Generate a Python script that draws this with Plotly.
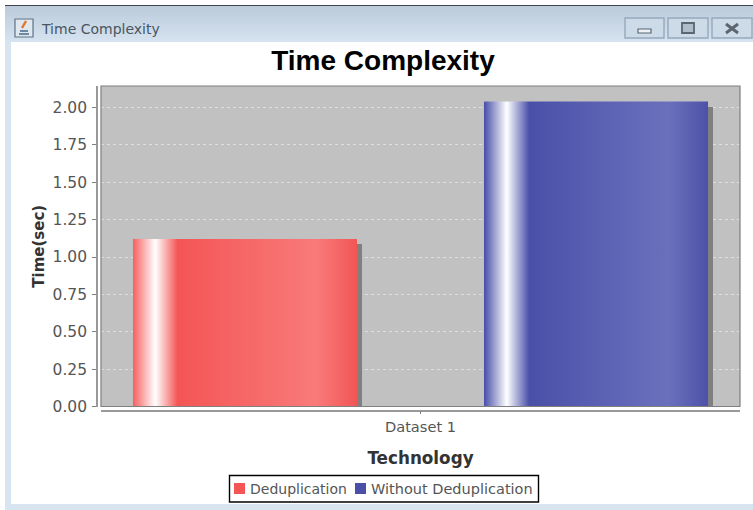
import plotly.graph_objects as go

# ---- data ----
title = "Time Complexity"
categories = ["Dataset 1"]
series_names = ["Deduplication", "Without Deduplication"]
series_values = [1.12, 2.04]
y_ticks = [0.0, 0.25, 0.5, 0.75, 1.0, 1.25, 1.5, 1.75, 2.0]
x_title = "Technology"
y_title = "Time(sec)"

# ---- styling ----
W, H = 753, 510
PL, PR, PT, PB = 101, 740, 86, 406.5
BAR_W = 0.35
centers = [0.225, 0.775]
base_colors = ["#f65555", "#4a4fa8"]
stops = [
    [[0, "#f65f5f"], [0.1, "#ffffff"], [0.2, "#f45555"], [0.82, "#f97a7a"], [1, "#f25656"]],
    [[0, "#4a50a8"], [0.1, "#ffffff"], [0.2, "#4a50a8"], [0.82, "#6b70bd"], [1, "#4d52a8"]],
]
YMAX = (PB - PT) / 149.5
SHADOW_DX = 5 / (PR - PL)
SHADOW_DY = 5 / 149.5


def px(x):
    return x / W


def py(y):
    return 1 - y / H


def rect(x0, y0, x1, y1, fill=None, line=None, lw=0, layer="below"):
    return dict(type="rect", xref="paper", yref="paper", x0=px(x0), x1=px(x1), y0=py(y0), y1=py(y1),
                fillcolor=fill or "rgba(0,0,0,0)", line=dict(color=line or "rgba(0,0,0,0)", width=lw), layer=layer)


def seg(x0, y0, x1, y1, color, lw):
    return dict(type="line", xref="paper", yref="paper", x0=px(x0), x1=px(x1), y0=py(y0), y1=py(y1),
                line=dict(color=color, width=lw), layer="above")


fig = go.Figure()

# shadows
fig.add_trace(go.Bar(x=[c + SHADOW_DX for c in centers], y=[v - SHADOW_DY for v in series_values],
                     width=BAR_W, marker=dict(color="#808080", line=dict(width=0)),
                     showlegend=False, hoverinfo="skip"))

# bars
for name, c, v, col in zip(series_names, centers, series_values, base_colors):
    fig.add_trace(go.Bar(name=name, x=[c], y=[v], width=BAR_W,
                         marker=dict(color=col, line=dict(width=0)), showlegend=False))

# gradient faces
for c, v, st in zip(centers, series_values, stops):
    l, r = c - BAR_W / 2, c + BAR_W / 2
    fig.add_trace(go.Scatter(x=[l, l, r, r, l], y=[0, v, v, 0, 0], mode="lines", fill="toself",
                             line=dict(width=0),
                             fillgradient=dict(type="horizontal", colorscale=st),
                             showlegend=False, hoverinfo="skip"))

shapes = []
# window chrome
shapes.append(rect(5, 6, W, 510, fill="#d8e4f0"))
n = 18
for i in range(n):
    t = i / (n - 1)
    c = (int(188 + t * 26), int(204 + t * 23), int(219 + t * 21))
    y0 = 6 + i * 36 / n
    shapes.append(rect(5, y0, W, y0 + 36 / n + 0.5, fill="rgb(%d,%d,%d)" % c))
shapes.append(rect(11, 42, W, 504, fill="#ffffff"))
shapes.append(seg(5, 5.5, W, 5.5, "#3c4650", 1.2))
shapes.append(rect(PL, PT, PR, PB, fill="#c0c1c0"))

# window buttons
for x0, x1 in [(625, 664), (668, 708), (712, 752)]:
    shapes.append(rect(x0, 18, x1, 38, fill="#cddbe8", line="#96a9bd", lw=1.4, layer="above"))
shapes.append(rect(638, 29, 651, 33, fill="#eef2f6", line="#5b6670", lw=1.2, layer="above"))
shapes.append(rect(682, 23, 694, 33, fill="#aebccb", line="#5b6670", lw=1.8, layer="above"))
shapes.append(seg(726, 24, 738, 33, "#5b6670", 3))
shapes.append(seg(738, 24, 726, 33, "#5b6670", 3))

# java icon
shapes.append(rect(15, 19, 33, 37, fill="#dfe7ef", line="#5f7285", lw=1.2, layer="above"))
shapes.append(seg(26, 21, 22, 28, "#e2762a", 2.4))
shapes.append(seg(20, 31, 28, 31, "#51708e", 1.6))
shapes.append(seg(19, 34, 29, 34, "#51708e", 1.6))

# plot frame
shapes.append(rect(PL, PT, PR, PB, line="#7f7f7f", lw=1.2, layer="above"))

# legend box and swatches
shapes.append(rect(229.5, 475.5, 538.5, 502, fill="#ffffff", line="#000000", lw=1.4, layer="above"))
shapes.append(rect(234, 483, 245, 494, fill=base_colors[0], layer="above"))
shapes.append(rect(355, 483, 366, 494, fill=base_colors[1], layer="above"))

fig.update_layout(
    width=W, height=H, margin=dict(l=0, r=0, t=0, b=0, pad=0, autoexpand=False), autosize=False,
    paper_bgcolor="#ffffff", plot_bgcolor="#c0c1c0", barmode="overlay", bargap=0,
    font=dict(family="DejaVu Sans", color="#555555", size=13),
    shapes=shapes,
    showlegend=False,
    title=dict(text="<b>%s</b>" % title, x=383 / W, xanchor="center", y=py(60), yanchor="middle",
               font=dict(family="Liberation Sans", size=28, color="#000000")),
    xaxis=dict(domain=[px(PL), px(PR)], range=[0, 1], anchor="free", position=py(410.5), automargin=False,
               tickvals=[0.5], ticktext=categories, ticks="outside", ticklen=3, tickcolor="#808080",
               showgrid=False, zeroline=False, showline=True, linecolor="#999999", linewidth=1.6,
               tickfont=dict(size=14.6, color="#555555"),
               title=dict(text=x_title, standoff=17,
                          font=dict(family="DejaVu Sans", size=16.8, color="#333333", weight="bold"))),
    yaxis=dict(domain=[py(PB), py(PT)], range=[0, YMAX], anchor="free", position=px(97), automargin=False,
               tickvals=y_ticks, tickformat=".2f", ticks="outside", ticklen=4, tickcolor="#808080",
               ticklabelstandoff=2,
               showgrid=True, gridcolor="#dedede", griddash="dot", gridwidth=1, zeroline=False,
               showline=True, linecolor="#999999", linewidth=1.6,
               tickfont=dict(size=15.5, color="#555555"),
               title=dict(text=y_title, standoff=3,
                          font=dict(family="DejaVu Sans", size=15, color="#333333", weight="bold"))),
    annotations=[
        dict(text=title, xref="paper", yref="paper", x=px(39), y=py(29), xanchor="left", yanchor="middle",
             showarrow=False, font=dict(family="DejaVu Sans", size=14, color="#4a5560")),
        dict(text=series_names[0], xref="paper", yref="paper", x=px(248), y=py(489), xanchor="left",
             yanchor="middle", showarrow=False, font=dict(size=14, color="#555555")),
        dict(text=series_names[1], xref="paper", yref="paper", x=px(369), y=py(489), xanchor="left",
             yanchor="middle", showarrow=False, font=dict(size=14.5, color="#555555")),
    ],
)

fig.write_html("out.html", config=dict(displayModeBar=False),
               post_script="document.body.style.margin='0';")
